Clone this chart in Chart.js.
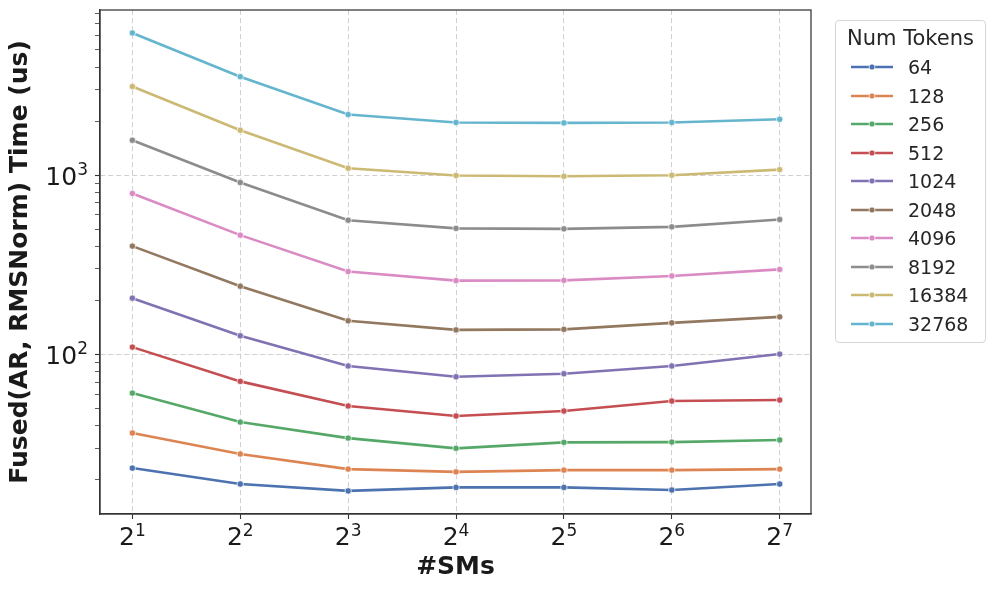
<!DOCTYPE html>
<html>
<head>
<meta charset="utf-8">
<script src="https://cdn.jsdelivr.net/npm/chart.js@4.4.1/dist/chart.umd.min.js"></script>
<style>
  body { margin: 0; background: #fff; }
  #wrap { position: relative; width: 996px; height: 591px; }
  #legend {
    position: absolute; left: 835px; top: 20px; width: 151px; height: 323px;
    box-sizing: border-box; border: 1px solid #d6d6d6; border-radius: 4px;
    background: rgba(255,255,255,0.8); font-family: 'DejaVu Sans'; color: #262626;
  }
  #legend .title { position: absolute; left: 0; width: 100%; top: 2px; height: 30px; line-height: 30px; text-align: center; font-size: 21px; }
  #legend .row { position: absolute; left: 0; height: 28.5px; line-height: 28.5px; font-size: 19px; }
  #legend .row canvas { position: absolute; left: 15px; top: 9px; }
  #legend .row span { position: absolute; left: 72px; white-space: nowrap; }
</style>
</head>
<body>
<div id="wrap">
  <canvas id="myChart"></canvas>
  <div id="legend"><div class="title">Num Tokens</div></div>
</div>
<script>
    // x = log2(#SMs)
    var smExp = [1, 2, 3, 4, 5, 6, 7];
    var tokenLabels = ['64', '128', '256', '512', '1024', '2048', '4096', '8192', '16384', '32768'];

    var t64    = [23.2, 18.9, 17.3, 18.1, 18.1, 17.5, 18.9];
    var t128   = [36.4, 27.8, 22.9, 22.1, 22.6, 22.6, 22.9];
    var t256   = [60.8, 41.9, 34.1, 29.9, 32.3, 32.4, 33.3];
    var t512   = [109.8, 70.7, 51.5, 45.3, 48.3, 54.9, 55.6];
    var t1024  = [206, 127, 86.1, 75.0, 78.0, 86.1, 100.4];
    var t2048  = [402, 240, 154, 137, 138, 150, 162];
    var t4096  = [791, 463, 290, 258, 259, 274, 298];
    var t8192  = [1567, 910, 561, 505, 502, 515, 566];
    var t16384 = [3126, 1782, 1094, 996, 986, 1000, 1075];
    var t32768 = [6223, 3548, 2180, 1968, 1959, 1968, 2051];

    var series = [t64, t128, t256, t512, t1024, t2048, t4096, t8192, t16384, t32768];
    var colors = ['#4C72B0', '#DD8452', '#55A868', '#C44E52', '#8172B3',
                  '#937860', '#DA8BC3', '#8C8C8C', '#CCB974', '#64B5CD'];

    var yTicks = [20, 30, 40, 50, 60, 70, 80, 90,
                  100, 200, 300, 400, 500, 600, 700, 800, 900,
                  1000, 2000, 3000, 4000, 5000, 6000, 7000, 8000];
    // labelled y ticks: value -> exponent of 10
    var yMajor = {100: '2', 1000: '3'};

    var gridColor = 'rgba(200,200,200,0.85)';
    var axisColor = '#333333';
    var textColor = '#1a1a1a';

    Chart.defaults.font.family = 'DejaVu Sans';
    Chart.defaults.color = textColor;

    var datasets = [];
    for (let i = 0; i < series.length; i++) {
      datasets.push({
        label: tokenLabels[i],
        data: series[i].map((v, j) => ({x: smExp[j], y: v})),
        borderColor: colors[i],
        backgroundColor: colors[i],
        borderWidth: 2.6,
        tension: 0,
        pointRadius: 3.2,
        pointBackgroundColor: colors[i],
        pointBorderColor: '#ffffff',
        pointBorderWidth: 0.7,
        fill: false
      });
    }

    // base + raised exponent, like mathtext 2^1 / 10^3
    function drawPow(ctx, base, exp, x, baseline, align) {
      ctx.font = '25px "DejaVu Sans"';
      var wb = ctx.measureText(base).width;
      ctx.font = '17px "DejaVu Sans"';
      var we = ctx.measureText(exp).width;
      var left = align === 'center' ? x - (wb + we) / 2 : x - (wb + we);
      ctx.font = '25px "DejaVu Sans"';
      ctx.fillText(base, left, baseline);
      ctx.font = '17px "DejaVu Sans"';
      ctx.fillText(exp, left + wb, baseline - 9.5);
    }

    var powLabels = {
      id: 'powLabels',
      afterDraw: function (chart) {
        var ctx = chart.ctx, xs = chart.scales.x, ys = chart.scales.y;
        ctx.save();
        ctx.fillStyle = textColor;
        ctx.textAlign = 'left';
        ctx.textBaseline = 'alphabetic';
        smExp.forEach(function (e) {
          drawPow(ctx, '2', String(e), xs.getPixelForValue(e), xs.top + 31, 'center');
        });
        Object.keys(yMajor).forEach(function (v) {
          drawPow(ctx, '10', yMajor[v], ys.right - 12, ys.getPixelForValue(Number(v)) + 9.5, 'right');
        });
        ctx.restore();
      }
    };

    var frame = {
      id: 'frame',
      afterDraw: function (chart) {
        var a = chart.chartArea, ctx = chart.ctx;
        ctx.save();
        ctx.strokeStyle = axisColor;
        ctx.lineWidth = 1.25;
        ctx.strokeRect(a.left, a.top, a.right - a.left, a.bottom - a.top);
        ctx.restore();
      }
    };

    var myChart = new Chart('myChart', {
      type: 'line',
      data: { datasets: datasets },
      plugins: [frame, powLabels],
      options: {
        responsive: true,
        maintainAspectRatio: false,
        animation: false,
        layout: { padding: { top: 10, right: 185, left: 0, bottom: 0 } },
        plugins: { legend: { display: false }, tooltip: { enabled: false } },
        scales: {
          x: {
            type: 'linear',
            min: 0.7,
            max: 7.29,
            afterBuildTicks: function (scale) {
              scale.ticks = smExp.map(v => ({value: v}));
            },
            afterFit: function (scale) {
              scale.height = 77;
              scale.paddingLeft = 0;
              scale.paddingRight = 0;
            },
            ticks: {
              autoSkip: false,
              maxRotation: 0,
              padding: 2,
              font: { size: 25 },
              callback: function () { return ''; }
            },
            grid: {
              color: gridColor,
              lineWidth: 1,
              tickColor: axisColor,
              tickLength: 5,
              tickWidth: 1.1
            },
            border: { color: axisColor, width: 1.25, dash: [5, 3] },
            title: {
              display: true,
              text: '#SMs',
              font: { size: 25, weight: 'bold' },
              padding: { top: 0, bottom: 9 }
            }
          },
          y: {
            type: 'logarithmic',
            min: 12.86,
            max: 8356,
            afterBuildTicks: function (scale) {
              scale.ticks = yTicks.map(v => ({value: v, major: !!yMajor[v]}));
            },
            afterFit: function (scale) {
              scale.width = 100;
              scale.paddingTop = 0;
              scale.paddingBottom = 0;
            },
            ticks: {
              autoSkip: false,
              padding: 7,
              font: { size: 25 },
              callback: function () { return ''; }
            },
            grid: {
              color: function (c) {
                return (c.tick && yMajor[c.tick.value]) ? gridColor : 'rgba(0,0,0,0)';
              },
              lineWidth: 1,
              tickColor: axisColor,
              tickLength: 5,
              tickWidth: function (c) {
                return (c.tick && yMajor[c.tick.value]) ? 1.1 : 0.8;
              }
            },
            border: { color: axisColor, width: 1.25, dash: [5, 3] },
            title: {
              display: true,
              text: 'Fused(AR, RMSNorm) Time (us)',
              font: { size: 25, weight: 'bold' },
              padding: { top: 5, bottom: 0 }
            }
          }
        }
      }
    });

    // legend box on the right
    var legend = document.getElementById('legend');
    for (let i = 0; i < tokenLabels.length; i++) {
      var row = document.createElement('div');
      row.className = 'row';
      row.style.top = (46.7 - 14.25 + 28.5 * i) + 'px';

      var icon = document.createElement('canvas');
      icon.width = 42;
      icon.height = 10;
      var c = icon.getContext('2d');
      c.strokeStyle = colors[i];
      c.lineWidth = 2.6;
      c.beginPath();
      c.moveTo(0, 5);
      c.lineTo(42, 5);
      c.stroke();
      c.beginPath();
      c.arc(21, 5, 3, 0, Math.PI * 2);
      c.fillStyle = colors[i];
      c.fill();
      c.strokeStyle = '#ffffff';
      c.lineWidth = 0.7;
      c.stroke();
      row.appendChild(icon);

      var txt = document.createElement('span');
      txt.innerHTML = tokenLabels[i];
      row.appendChild(txt);
      legend.appendChild(row);
    }
</script>
</body>
</html>
